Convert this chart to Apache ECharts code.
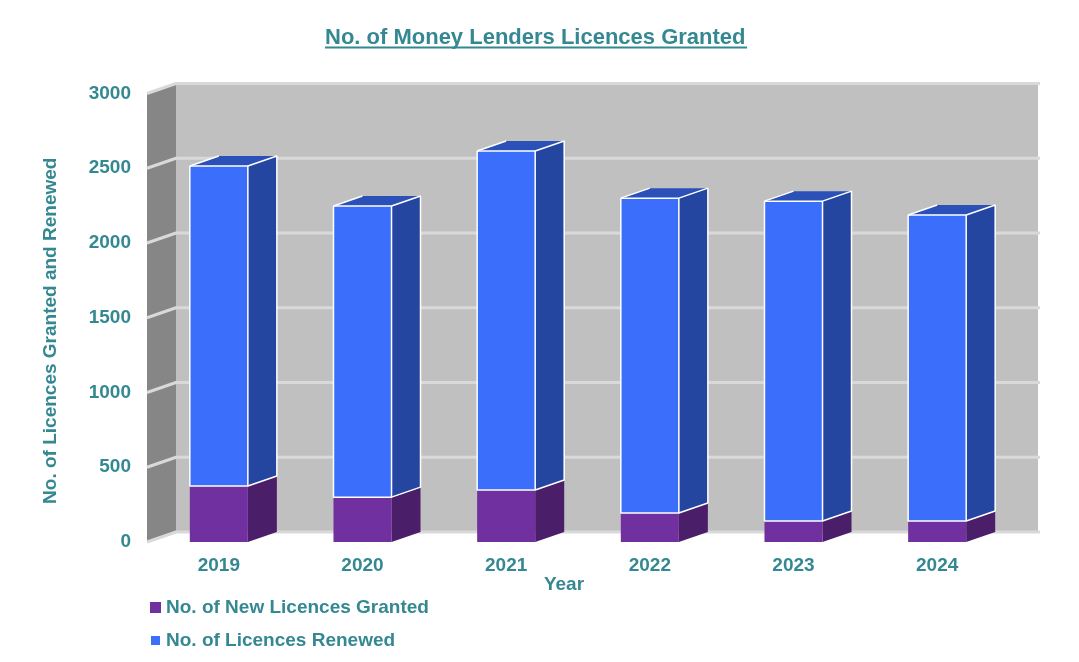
<!DOCTYPE html>
<html>
<head>
<meta charset="utf-8">
<script src="https://cdn.jsdelivr.net/npm/echarts@6/dist/echarts.min.js"></script>
<style>html,body{margin:0;padding:0;background:#fff}#c{width:1079px;height:662px}</style>
</head>
<body>
<div id="c"></div>
<script>
const categories = ['2019','2020','2021','2022','2023','2024'];
const newLicences = [375, 300, 348, 194, 140, 140];
const renewedLicences = [2140, 1947, 2267, 2106, 2140, 2047];
const yTicks = [0, 500, 1000, 1500, 2000, 2500, 3000];

const TEAL = '#348892';
const FONT = '"Liberation Sans", Arial, sans-serif';
const DX = 29, DY = -10;

const chart = echarts.init(document.getElementById('c'), null, {renderer: 'canvas'});

function poly(points, fill) {
  return {type: 'polygon', shape: {points}, style: {fill, stroke: null}, silent: true};
}
function edge(points) {
  return {type: 'polyline', silent: true, shape: {points},
    style: {fill: null, stroke: '#ffffff', lineWidth: 1.5, lineJoin: 'bevel', lineCap: 'butt'}};
}

function wallsItem(params, api) {
  const cs = params.coordSys;
  const x0 = cs.x, x1 = cs.x + cs.width, yT = cs.y, yB = cs.y + cs.height;
  const children = [
    poly([[x0 + DX, yT + DY], [x1 + DX, yT + DY], [x1 + DX, yB + DY], [x0 + DX, yB + DY]], '#c0c0c0'),
    poly([[x0, yT], [x0 + DX, yT + DY], [x0 + DX, yB + DY], [x0, yB]], '#868686')
  ];
  yTicks.forEach(function (v) {
    const y = api.coord([0, v])[1];
    children.push({type: 'polyline', silent: true,
      shape: {points: [[x0, y], [x0 + DX, y + DY], [x1 + DX + 2, y + DY]]},
      style: {fill: null, stroke: '#d9d9d9', lineWidth: 3, lineJoin: 'bevel'}});
  });
  return {type: 'group', children};
}

function barItem(front, side, top, outline) {
  return function (params, api) {
    const i = api.value(0);
    const c = api.coord([i, api.value(1)]);
    const e = api.coord([i, api.value(2)]);
    const w = api.size([1, 0])[0] * 0.404;
    const l = c[0] - w / 2, r = c[0] + w / 2, yb = c[1], yt = e[1];
    const kids = [];
    kids.push(poly([[r, yt], [r + DX, yt + DY], [r + DX, yb + DY], [r, yb]], side));
    if (top) kids.push(poly([[l, yt], [l + DX, yt + DY], [r + DX, yt + DY], [r, yt]], top));
    kids.push(poly([[l, yt], [r, yt], [r, yb], [l, yb]], front));
    if (outline) {
      kids.push(edge([[l, yt], [r, yt], [r, yb], [l, yb], [l, yt]]));
      kids.push(edge([[l, yt], [l + DX, yt + DY]]));
      kids.push(edge([[r, yt], [r + DX, yt + DY], [r + DX, yb + DY], [r, yb]]));
    }
    return {type: 'group', children: kids};
  };
}

const newData = categories.map((c, i) => [i, 0, newLicences[i]]);
const renewedData = categories.map((c, i) => [i, newLicences[i], newLicences[i] + renewedLicences[i]]);

chart.setOption({
  animation: false,
  backgroundColor: '#ffffff',
  textStyle: {fontFamily: FONT},
  title: {
    text: 'No. of Money Lenders Licences Granted',
    left: 325, top: 27, padding: 0,
    textStyle: {color: TEAL, fontSize: 22, fontWeight: 'bold', fontFamily: FONT}
  },
  graphic: [{
    type: 'rect', silent: true, z: 10,
    shape: {x: 325, y: 46.5, width: 422, height: 2},
    style: {fill: TEAL}
  }],
  legend: {
    orient: 'vertical', left: 150, top: 597, padding: 0,
    itemWidth: 11, itemHeight: 11, itemGap: 12,
    data: [
      {name: 'No. of New Licences Granted', icon: 'rect'},
      {name: 'No. of Licences Renewed', icon: 'path://M0 0L0 0ZM1 1H10V10H1ZM11 11L11 11Z'}
    ],
    selectedMode: false,
    textStyle: {color: TEAL, fontSize: 19, fontWeight: 'bold', fontFamily: FONT, lineHeight: 21}
  },
  tooltip: {show: false},
  grid: {left: 147, right: 70, top: 93.5, bottom: 120},
  xAxis: {
    type: 'category', data: categories,
    name: 'Year', nameLocation: 'middle', nameGap: 33, nameMoveOverlap: false,
    nameTextStyle: {color: TEAL, fontSize: 19, fontWeight: 'bold', padding: [0, 28, 0, 0]},
    axisLine: {show: false}, axisTick: {show: false}, splitLine: {show: false},
    axisLabel: {color: TEAL, fontSize: 19, fontWeight: 'bold', margin: 14}
  },
  yAxis: {
    type: 'value', min: 0, max: 3000, interval: 500,
    name: 'No. of Licences Granted and Renewed', nameLocation: 'middle', nameGap: 87, nameRotate: 90,
    nameTextStyle: {color: TEAL, fontSize: 19, fontWeight: 'bold', padding: [0, 26, 0, 0]},
    axisLine: {show: false}, axisTick: {show: false}, splitLine: {show: false},
    axisLabel: {color: TEAL, fontSize: 19, fontWeight: 'bold', margin: 16, formatter: (v) => String(v), padding: [3, 0, 0, 0]}
  },
  series: [
    {type: 'custom', name: 'walls', silent: true, z: 1, renderItem: wallsItem,
      data: [[0, 0, 0]], encode: {x: 0, y: 1}, clip: false},
    {type: 'custom', name: 'No. of New Licences Granted', z: 2, silent: true,
      itemStyle: {color: '#7030a0'},
      renderItem: barItem('#7030a0', '#4a1e68', null, false),
      data: newData, encode: {x: 0, y: [1, 2]}, clip: false},
    {type: 'custom', name: 'No. of Licences Renewed', z: 3, silent: true,
      itemStyle: {color: '#3b6ffb'},
      renderItem: barItem('#3b6ffb', '#2446a0', '#2b50b8', true),
      data: renewedData, encode: {x: 0, y: [1, 2]}, clip: false}
  ]
});
</script>
</body>
</html>
